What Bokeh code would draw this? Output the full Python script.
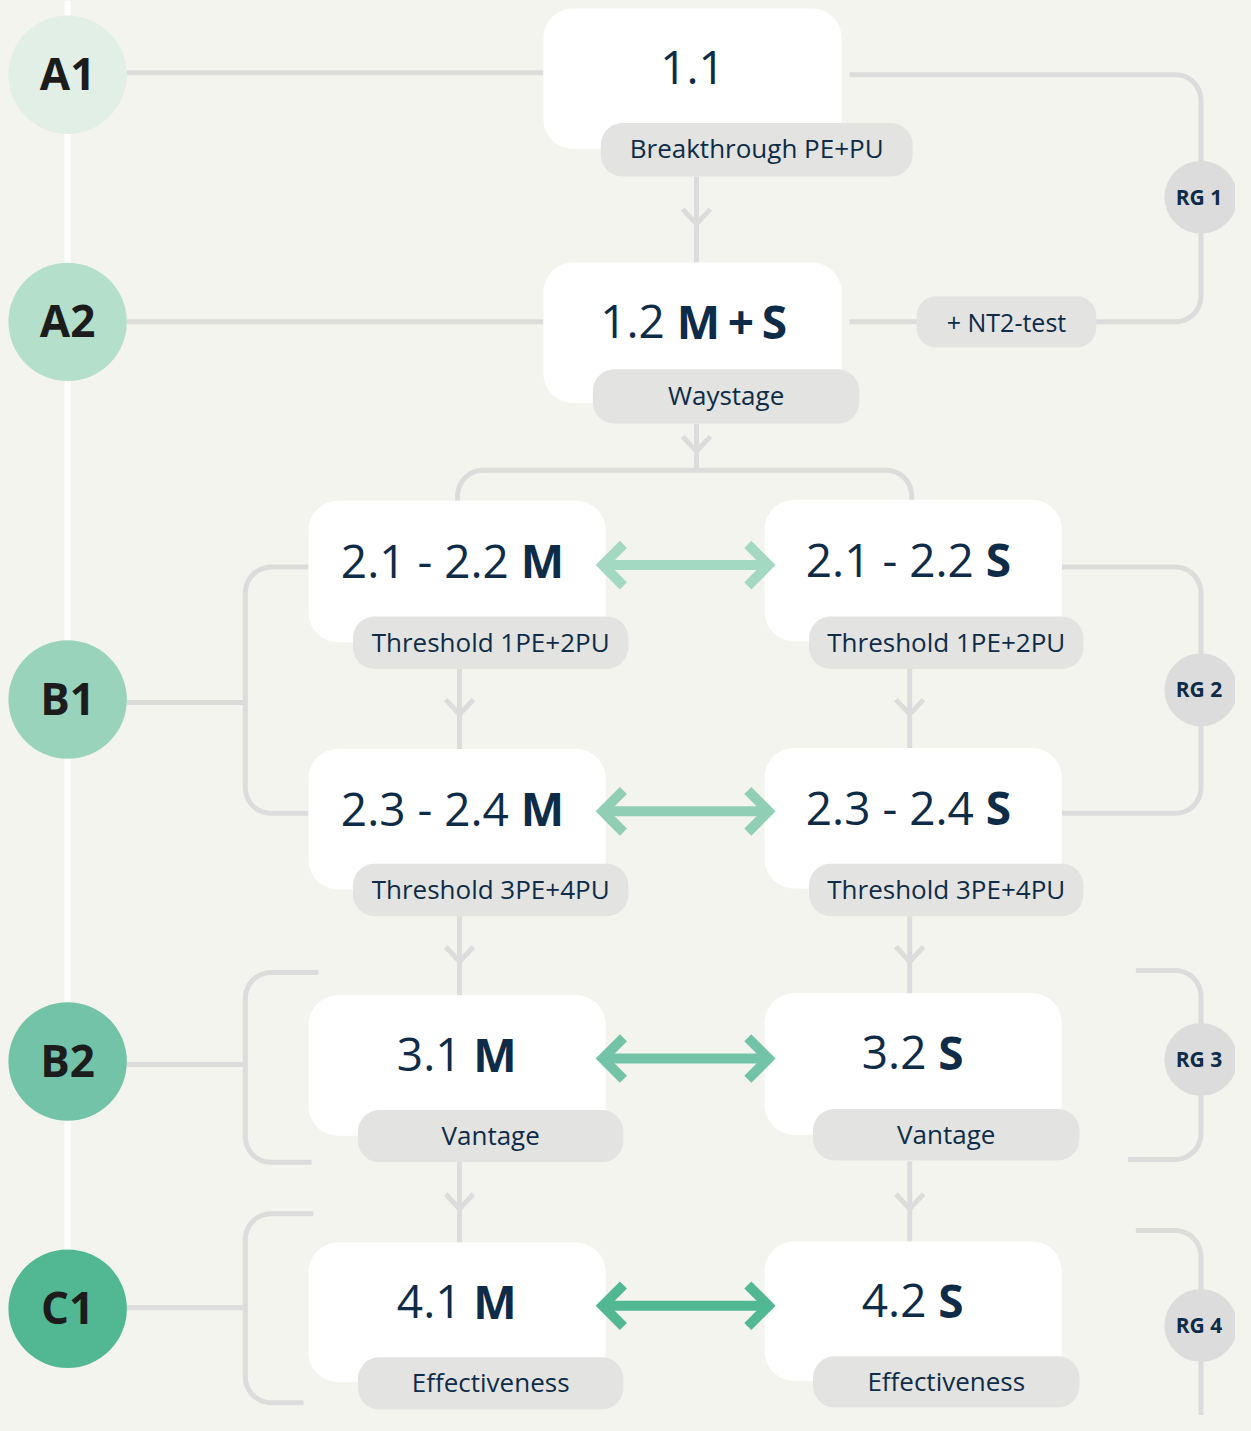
import numpy as np
from bokeh.plotting import figure
from bokeh.models import Range1d
from bokeh.core.properties import value
from bokeh.embed import file_html
from bokeh.resources import INLINE

# ---------------- data (texts) ----------------
levels = ["A1", "A2", "B1", "B2", "C1"]
rg_labels = ["RG 1", "RG 2", "RG 3", "RG 4"]
title_main = ["1.1", "1.2", "2.1 - 2.2", "2.1 - 2.2", "2.3 - 2.4", "2.3 - 2.4",
              "3.1", "3.2", "4.1", "4.2"]
title_bold = ["", "M\u2009+\u2009S", "M", "S", "M", "S", "M", "S", "M", "S"]
pill_labels = ["Breakthrough PE+PU", "Waystage", "Threshold 1PE+2PU", "Threshold 1PE+2PU",
               "Threshold 3PE+4PU", "Threshold 3PE+4PU", "Vantage", "Vantage",
               "Effectiveness", "Effectiveness"]
extra_label = "+ NT2-test"

# ---------------- layout (reference pixel coordinates) ----------------
BG = "#f4f4ef"
GRAY = "#dcdcdc"
PILL = "#e3e3e2"
NAVY = "#0e2c48"
DARK = "#1c1c1c"
level_colors = ["#e2efe6", "#b4dfcb", "#9ad3bb", "#72c3a8", "#52b894"]
arrow_colors = ["#a3d8c2", "#90cfb6", "#72c3a8", "#52b894"]
FONT = value("Open Sans")

level_cy = [75, 325, 707, 1073, 1323]
rg_cy = [199, 697, 1071, 1340]
boxes = [(550, 8, 852, 150), (550, 265, 852, 407),
         (312, 506, 613, 649), (774, 505, 1075, 648),
         (312, 757, 613, 899), (774, 756, 1075, 898),
         (312, 1006, 613, 1148), (774, 1004, 1075, 1147),
         (312, 1256, 613, 1397), (774, 1255, 1075, 1396)]
pills = [(608, 124, 924, 178), (600, 373, 870, 428),
         (357, 623, 636, 676), (819, 623, 1097, 676),
         (357, 873, 636, 926), (819, 873, 1097, 926),
         (362, 1122, 631, 1175), (823, 1121, 1093, 1173),
         (362, 1372, 631, 1425), (823, 1371, 1093, 1423)]
split_x = [None, 679, 521, 992, 521, 992, 473, 944, 473, 944]
arrow_y = [571, 820, 1070, 1320]
BL = 0.4  # baseline correction (fraction of font size)
PILL_FS = 26


def corner_arc(p0, p1, p2, r, n=12):
    d1 = (p0 - p1) / np.linalg.norm(p0 - p1)
    d2 = (p2 - p1) / np.linalg.norm(p2 - p1)
    a = p1 + d1 * r
    b = p1 + d2 * r
    c = p1 + d1 * r + d2 * r
    a0 = np.arctan2(*(a - c)[::-1])
    a1 = np.arctan2(*(b - c)[::-1])
    da = (a1 - a0 + np.pi) % (2 * np.pi) - np.pi
    t = np.linspace(a0, a0 + da, n)
    return np.column_stack([c[0] + r * np.cos(t), c[1] + r * np.sin(t)])


def rpath(pts, r):
    pts = [np.array(q, float) for q in pts]
    out = [pts[0][None, :]]
    for i in range(1, len(pts) - 1):
        out.append(corner_arc(pts[i - 1], pts[i], pts[i + 1], r))
    out.append(pts[-1][None, :])
    arr = np.vstack(out)
    return list(arr[:, 0]), list(arr[:, 1])


def rrect(x0, y0, x1, y1, r):
    mx = (x0 + x1) / 2
    return rpath([(mx, y0), (x1, y0), (x1, y1), (x0, y1), (x0, y0), (mx, y0)], r)


p = figure(width=1235, height=1415, x_range=Range1d(0, 1251), y_range=Range1d(1431, 0),
           output_backend="svg", toolbar_location=None, min_border=0,
           x_axis_location=None, y_axis_location=None)
p.grid.visible = False
p.outline_line_color = None
p.background_fill_color = BG
p.border_fill_color = BG

# white timeline
p.line([68, 68], [0, level_cy[-1]], line_color="white", line_width=6)

# gray connectors
paths = []
paths.append(([128, 550], [73, 73]))
paths.append(([128, 550], [325, 325]))
paths.append(([128, 248], [710, 710]))
paths.append(([128, 248], [1076, 1076]))
paths.append(([128, 248], [1322, 1322]))
paths.append(rpath([(312, 573), (248, 573), (248, 822), (312, 822)], 26))
paths.append(rpath([(322, 983), (248, 983), (248, 1175), (315, 1175)], 26))
paths.append(rpath([(317, 1227), (248, 1227), (248, 1418), (307, 1418)], 26))
paths.append(rpath([(860, 75), (1216, 75), (1216, 325), (860, 325)], 26))
paths.append(rpath([(1075, 573), (1216, 573), (1216, 822), (1075, 822)], 26))
paths.append(rpath([(1150, 981), (1216, 981), (1216, 1172), (1142, 1172)], 26))
paths.append(rpath([(1150, 1244), (1216, 1244), (1216, 1440)], 26))
paths.append(rpath([(463, 506), (463, 475), (923, 475), (923, 506)], 26))
paths.append(([705, 705], [178, 265]))
paths.append(([705, 705], [428, 475]))
for cx in (465, 921):
    paths.append(([cx, cx], [676, 757]))
    paths.append(([cx, cx], [926, 1006]))
    paths.append(([cx, cx], [1174, 1256]))
p.multi_line([q[0] for q in paths], [q[1] for q in paths], line_color=GRAY,
             line_width=5, line_join="round")

# gray chevrons
chev = [(705, 226), (705, 456), (465, 722), (921, 722), (465, 972), (921, 972),
        (465, 1222), (921, 1222)]
p.multi_line([[x - 14, x, x + 14] for x, y in chev], [[y - 15, y, y - 15] for x, y in chev],
             line_color=GRAY, line_width=5, line_join="miter")

# level circles
p.circle(x=[68] * len(levels), y=level_cy, radius=60, fill_color=level_colors, line_color=None)
p.text(x=[68] * len(levels), y=[c + 16 - BL * 44 for c in level_cy], text=levels, text_font=FONT,
       text_font_style="bold", text_font_size="44px", text_align="center",
       text_baseline="alphabetic", text_color=DARK)

# RG circles
p.circle(x=[1216] * len(rg_labels), y=rg_cy, radius=37, fill_color=GRAY, line_color=None)
p.text(x=[1214] * len(rg_labels), y=[c + 8 - BL * 21 for c in rg_cy], text=rg_labels,
       text_font=FONT, text_font_style="bold", text_font_size="21px", text_align="center",
       text_baseline="alphabetic", text_color=NAVY)

# boxes
bx = [rrect(*b, 30) for b in boxes]
p.patches([q[0] for q in bx], [q[1] for q in bx], fill_color="white", line_color=None)
pl = [rrect(*b, 22) for b in pills] + [rrect(928, 299, 1110, 351, 20)]
p.patches([q[0] for q in pl], [q[1] for q in pl], fill_color=PILL, line_color=None)

# pill texts
p.text(x=[(b[0] + b[2]) / 2 for b in pills], y=[b[1] + 36 - BL * PILL_FS for b in pills],
       text=pill_labels, text_font=FONT, text_font_size="%dpx" % PILL_FS, text_align="center",
       text_baseline="alphabetic", text_color=NAVY)
p.text(x=[1019], y=[335 - BL * 25], text=[extra_label], text_font=FONT, text_font_size="25px",
       text_align="center", text_baseline="alphabetic", text_color=NAVY)

# titles
cx_c, cy_c, t_c = [], [], []
xr, yr, tr = [], [], []
xb, yb, tb = [], [], []
for b, m, bo, sx in zip(boxes, title_main, title_bold, split_x):
    base = b[1] + 78 - BL * 46
    if not bo:
        cx_c.append((b[0] + b[2]) / 2); cy_c.append(base); t_c.append(m)
    else:
        xr.append(sx - 6); yr.append(base); tr.append(m)
        xb.append(sx + 6); yb.append(base); tb.append(bo)
common = dict(text_font=FONT, text_font_size="46px", text_baseline="alphabetic", text_color=NAVY)
p.text(x=cx_c, y=cy_c, text=t_c, text_align="center", **common)
p.text(x=xr, y=yr, text=tr, text_align="right", **common)
p.text(x=xb, y=yb, text=tb, text_align="left", text_font_style="bold", **common)

# green double arrows
for ay, col in zip(arrow_y, arrow_colors):
    p.line([612, 776], [ay, ay], line_color=col, line_width=10)
    p.multi_line([[631, 610, 631], [757, 778, 757]], [[ay - 21, ay, ay + 21], [ay - 21, ay, ay + 21]],
                 line_color=col, line_width=10, line_join="miter", line_cap="butt")

html = file_html(p, INLINE)
html = html.replace("</head>", "<style>body{background:%s;}</style></head>" % BG, 1)
open("out.html", "w").write(html)
